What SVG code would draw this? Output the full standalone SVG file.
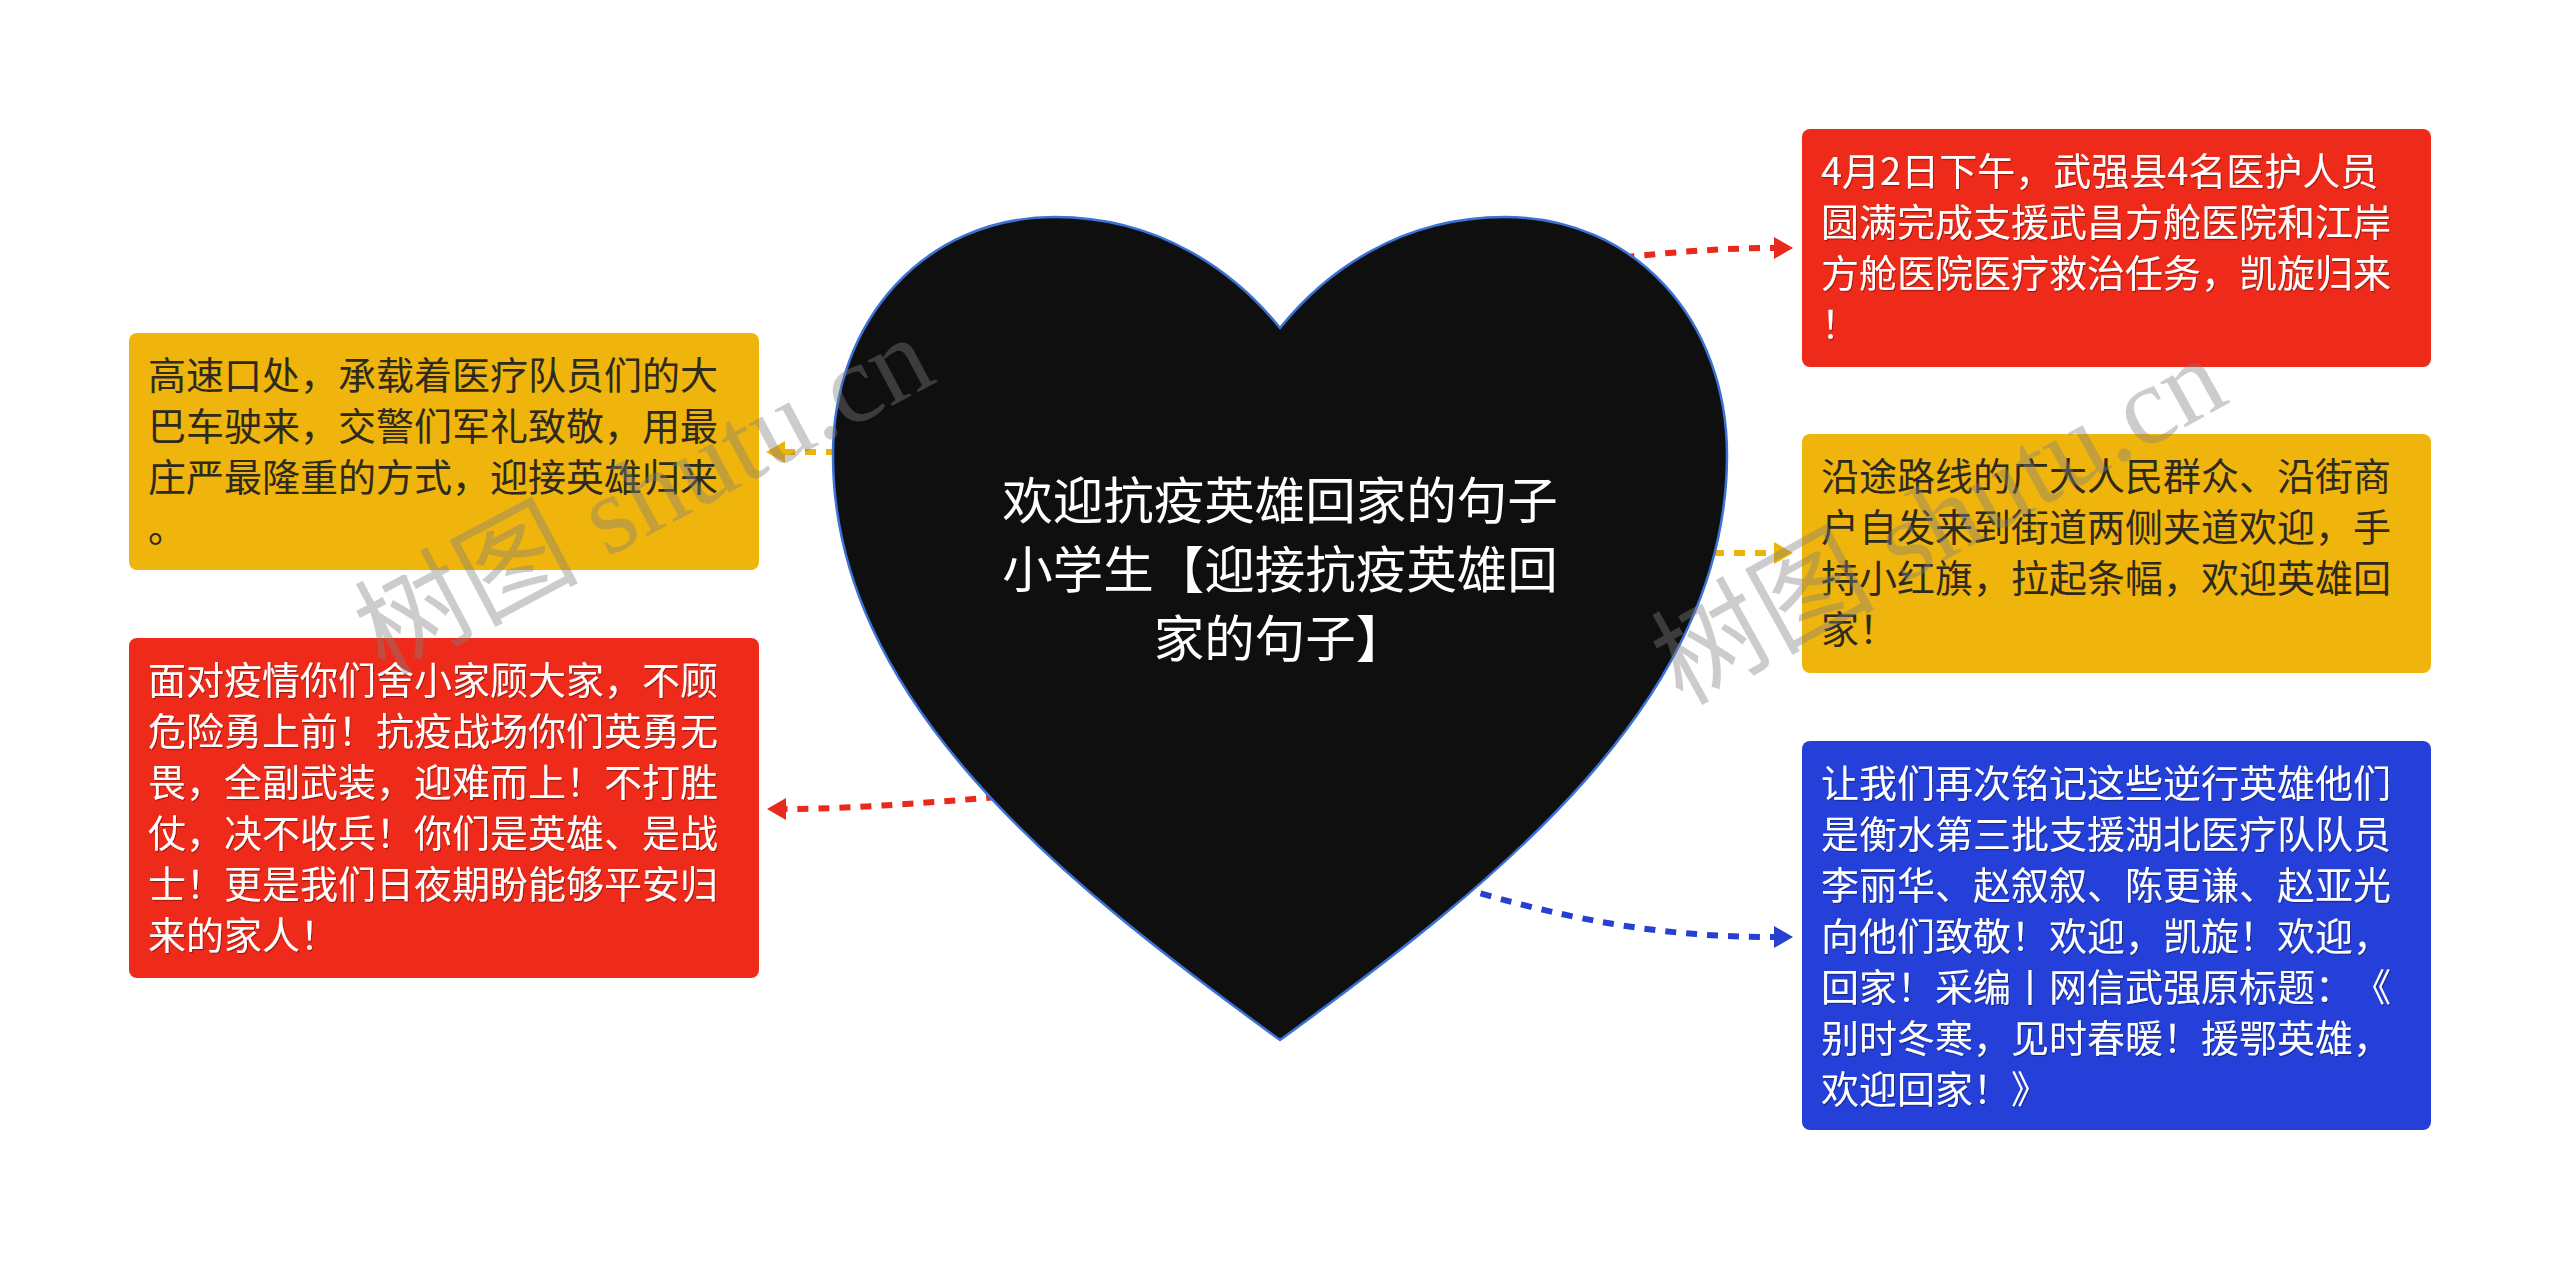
<svg xmlns="http://www.w3.org/2000/svg" width="2560" height="1261" viewBox="0 0 2560 1261">
<style>
.box-red{fill:#EE2A1A;}
.box-yel{fill:#F0B50C;}
.box-blu{fill:#2540D8;}
.t{font-family:"Noto Sans CJK SC","Noto Sans",sans-serif;font-size:38px;text-spacing-trim:space-all;}
.tw{fill:#ffffff;filter:url(#sh);}
.td{fill:#2e2a1e;}
.ht{font-family:"Noto Sans CJK SC","Noto Sans",sans-serif;font-size:50.5px;fill:#ffffff;text-anchor:middle;text-spacing-trim:space-all;}
.c{fill:none;stroke-width:6;stroke-dasharray:11 10;}
.wm{font-family:"Liberation Serif","Noto Sans CJK SC",serif;font-size:112px;fill:#808080;fill-opacity:0.4;}
</style>
<defs>
<filter id="sh" x="-5%" y="-5%" width="110%" height="120%">
<feDropShadow dx="1" dy="1.2" stdDeviation="0.6" flood-color="#000" flood-opacity="0.35"/>
</filter>
<marker id="aR" markerUnits="userSpaceOnUse" markerWidth="20" markerHeight="22" refX="0" refY="11" orient="auto"><path d="M0,0 L19,11 L0,22 Z" fill="#E8291C"/></marker>
<marker id="aY" markerUnits="userSpaceOnUse" markerWidth="20" markerHeight="22" refX="0" refY="11" orient="auto"><path d="M0,0 L19,11 L0,22 Z" fill="#EDB30A"/></marker>
<marker id="aB" markerUnits="userSpaceOnUse" markerWidth="20" markerHeight="22" refX="0" refY="11" orient="auto"><path d="M0,0 L19,11 L0,22 Z" fill="#2840D0"/></marker>
</defs>
<rect width="2560" height="1261" fill="#ffffff"/>
<g id="connectors">
<path class="c" stroke="#E8291C" marker-end="url(#aR)" d="M1540,268 C1620,257 1700,248 1774,248"/>
<path class="c" stroke="#EDB30A" marker-end="url(#aY)" d="M1650,553 L1774,553"/>
<path class="c" stroke="#2840D0" marker-end="url(#aB)" d="M1420,875 C1560,920 1660,937 1774,937"/>
<path class="c" stroke="#EDB30A" marker-end="url(#aY)" d="M900,452 L785,452"/>
<path class="c" stroke="#E8291C" marker-end="url(#aR)" d="M1060,792 C960,800 860,809 786,809"/>
</g>
<g id="center">
<path d="M1280,328 C1235,272 1160,217 1055,217 C925,217 833,320 833,455 C833,700 1060,880 1280,1040 C1500,880 1727,700 1727,455 C1727,320 1635,217 1505,217 C1400,217 1325,272 1280,328 Z" fill="#0f0f0f" stroke="#3a72d6" stroke-width="2.5"/>
<text class="ht" x="1280" y="519">欢迎抗疫英雄回家的句子</text>
<text class="ht" x="1280" y="588">小学生【迎接抗疫英雄回</text>
<text class="ht" x="1280" y="657">家的句子】</text>
</g>
<g id="node-l1">
<rect class="box-yel" x="129" y="333" width="630" height="237" rx="8"/>
<text class="t td" x="148" y="389">高速口处，承载着医疗队员们的大</text>
<text class="t td" x="148" y="440">巴车驶来，交警们军礼致敬，用最</text>
<text class="t td" x="148" y="491">庄严最隆重的方式，迎接英雄归来</text>
<text class="t td" x="148" y="542">。</text>
</g>
<g id="node-l2">
<rect class="box-red" x="129" y="638" width="630" height="340" rx="8"/>
<text class="t tw" x="148" y="694">面对疫情你们舍小家顾大家，不顾</text>
<text class="t tw" x="148" y="745">危险勇上前！抗疫战场你们英勇无</text>
<text class="t tw" x="148" y="796">畏，全副武装，迎难而上！不打胜</text>
<text class="t tw" x="148" y="847">仗，决不收兵！你们是英雄、是战</text>
<text class="t tw" x="148" y="898">士！更是我们日夜期盼能够平安归</text>
<text class="t tw" x="148" y="949">来的家人！</text>
</g>
<g id="node-r1">
<rect class="box-red" x="1802" y="129" width="629" height="238" rx="8"/>
<text class="t tw" x="1821" y="185">4月2日下午，武强县4名医护人员</text>
<text class="t tw" x="1821" y="236">圆满完成支援武昌方舱医院和江岸</text>
<text class="t tw" x="1821" y="287">方舱医院医疗救治任务，凯旋归来</text>
<text class="t tw" x="1821" y="338">！</text>
</g>
<g id="node-r2">
<rect class="box-yel" x="1802" y="434" width="629" height="239" rx="8"/>
<text class="t td" x="1821" y="490">沿途路线的广大人民群众、沿街商</text>
<text class="t td" x="1821" y="541">户自发来到街道两侧夹道欢迎，手</text>
<text class="t td" x="1821" y="592">持小红旗，拉起条幅，欢迎英雄回</text>
<text class="t td" x="1821" y="643">家！</text>
</g>
<g id="node-r3">
<rect class="box-blu" x="1802" y="741" width="629" height="389" rx="8"/>
<text class="t tw" x="1821" y="797">让我们再次铭记这些逆行英雄他们</text>
<text class="t tw" x="1821" y="848">是衡水第三批支援湖北医疗队队员</text>
<text class="t tw" x="1821" y="899">李丽华、赵叙叙、陈更谦、赵亚光</text>
<text class="t tw" x="1821" y="950">向他们致敬！欢迎，凯旋！欢迎，</text>
<text class="t tw" x="1821" y="1001">回家！采编丨网信武强原标题：《</text>
<text class="t tw" x="1821" y="1052">别时冬寒，见时春暖！援鄂英雄，</text>
<text class="t tw" x="1821" y="1103">欢迎回家！》</text>
</g>
<g id="watermark">
<text class="wm" transform="translate(384,676) rotate(-28)">树图 shutu.cn</text>
<text class="wm" transform="translate(1682,706) rotate(-29)">树图 shutu.cn</text>
</g>
</svg>
